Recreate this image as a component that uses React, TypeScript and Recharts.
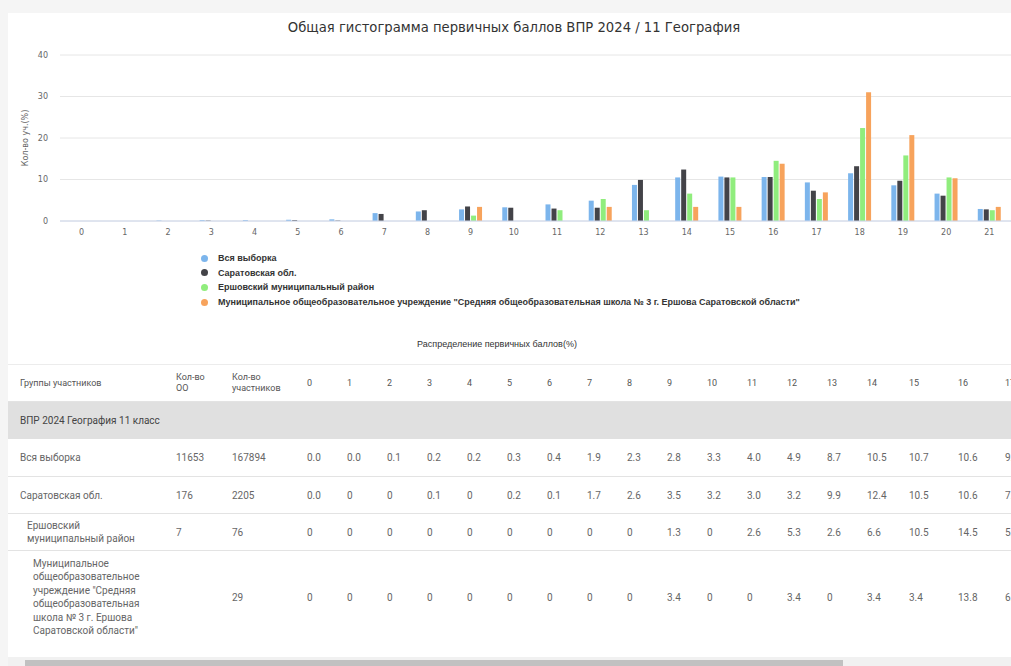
import { BarChart, Bar, XAxis, YAxis, CartesianGrid, Legend } from "recharts";

/* ===== data ===== */
const scores = [
  "0", "1", "2", "3", "4", "5", "6", "7", "8", "9", "10",
  "11", "12", "13", "14", "15", "16", "17", "18", "19", "20", "21",
];

const seriesNames = [
  "Вся выборка",
  "Саратовская обл.",
  "Ершовский муниципальный район",
  "Муниципальное общеобразовательное учреждение \"Средняя общеобразовательная школа № 3 г. Ершова Саратовской области\"",
];

// распределение первичных баллов, %
const allSample = ["0.0", "0.0", "0.1", "0.2", "0.2", "0.3", "0.4", "1.9", "2.3", "2.8", "3.3", "4.0", "4.9", "8.7", "10.5", "10.7", "10.6", "9.3", "11.5", "8.6", "6.6", "2.9"];
const saratovRegion = ["0.0", "0", "0", "0.1", "0", "0.2", "0.1", "1.7", "2.6", "3.5", "3.2", "3.0", "3.2", "9.9", "12.4", "10.5", "10.6", "7.3", "13.2", "9.7", "6.1", "2.8"];
const ershovDistrict = ["0", "0", "0", "0", "0", "0", "0", "0", "0", "1.3", "0", "2.6", "5.3", "2.6", "6.6", "10.5", "14.5", "5.3", "22.4", "15.8", "10.5", "2.6"];
const school3 = ["0", "0", "0", "0", "0", "0", "0", "0", "0", "3.4", "0", "0", "3.4", "0", "3.4", "3.4", "13.8", "6.9", "31.0", "20.7", "10.3", "3.4"];

const schoolCounts = ["11653", "176", "7", ""];
const participantCounts = ["167894", "2205", "76", "29"];

const yTicks = [0, 10, 20, 30, 40];

const chartTitle = "Общая гистограмма первичных баллов ВПР 2024 / 11 География";
const tableTitle = "Распределение первичных баллов(%)";
const groupTitle = "ВПР 2024 География 11 класс";
const yAxisTitle = "Кол-во уч.(%)";

/* ===== styles ===== */
const COLORS = ["#7cb5ec", "#434348", "#90ed7d", "#f7a35c"];
const KEYS = ["all", "saratov", "ershov", "school"];
const SERIES = [allSample, saratovRegion, ershovDistrict, school3];
const FONT = "'DejaVu Sans', sans-serif";
const TABLE_FONT = "Roboto, sans-serif";

// видимая часть таблицы (прокручивается вправо)
const TABLE_COLS = 18;
const colWidths = [168, 56, 75, 40, 40, 40, 40, 40, 40, 40, 40, 40, 40, 40, 40, 40, 40, 42, 49, 47, 48];

const chartData = scores.map((s, i) => {
  const row: Record<string, string | number> = { score: s };
  KEYS.forEach((k, j) => {
    row[k] = parseFloat(SERIES[j][i]);
  });
  return row;
});

const renderLegend = () => (
  <ul style={{ listStyle: "none", margin: 0, padding: "0 0 0 201px" }}>
    {seriesNames.map((name, j) => (
      <li
        key={name}
        style={{
          height: 14.6,
          display: "flex",
          alignItems: "center",
          fontSize: 9,
          fontWeight: "bold",
          color: "#333",
          fontFamily: "'Liberation Sans', Arial, sans-serif",
          whiteSpace: "nowrap",
        }}
      >
        <span
          style={{
            width: 7,
            height: 7,
            borderRadius: "50%",
            background: COLORS[j],
            marginRight: 10,
            flex: "none",
          }}
        />
        {name}
      </li>
    ))}
  </ul>
);

const YTitle = (props: any) => {
  const vb = props.viewBox || { y: 0, height: 0 };
  const cy = vb.y + vb.height / 2;
  return (
    <text
      x={25}
      y={cy}
      transform={`rotate(-90 25 ${cy})`}
      textAnchor="middle"
      dominantBaseline="middle"
      fontSize={8}
      fill="#666"
      fontFamily={FONT}
    >
      {yAxisTitle}
    </text>
  );
};

const cellBase = {
  padding: 0,
  textAlign: "left" as const,
  verticalAlign: "middle" as const,
  fontFamily: TABLE_FONT,
};

const App = () => {
  const visibleScores = scores.slice(0, TABLE_COLS);

  return (
    <div
      style={{
        position: "relative",
        width: 1011,
        height: 666,
        overflow: "hidden",
        background: "#f5f5f5",
      }}
    >
      <style>{"body{margin:0}"}</style>

      {/* карточка */}
      <div
        style={{
          position: "absolute",
          left: 8,
          top: 13,
          right: 0,
          bottom: 0,
          background: "#fff",
        }}
      />

      {/* заголовок */}
      <div
        style={{
          position: "absolute",
          left: 8,
          top: 20,
          width: 1012,
          textAlign: "center",
          fontFamily: FONT,
          fontSize: 13.2,
          color: "#333",
        }}
      >
        {chartTitle}
      </div>

      {/* гистограмма */}
      <div style={{ position: "absolute", left: 0, top: 40 }}>
        <BarChart
          width={1011}
          height={211}
          data={chartData}
          margin={{ top: 15, right: 0, bottom: 0, left: 0 }}
          barGap={1}
        >
          <CartesianGrid vertical={false} stroke="#e6e6e6" />
          <XAxis
            dataKey="score"
            interval={0}
            height={30}
            tickLine={false}
            axisLine={{ stroke: "#ccd6eb" }}
            tick={{ fontSize: 8, fill: "#666", fontFamily: FONT }}
          />
          <YAxis
            domain={[0, 40]}
            ticks={yTicks}
            width={60}
            axisLine={false}
            tickLine={false}
            tickMargin={6}
            tick={{ fontSize: 8, fill: "#666", fontFamily: FONT }}
            label={{ content: <YTitle /> }}
          />
          <Legend
            layout="horizontal"
            verticalAlign="middle"
            align="center"
            content={renderLegend}
            wrapperStyle={{ top: 211, left: 0, width: 1011 }}
          />
          {KEYS.map((k, j) => (
            <Bar
              key={k}
              dataKey={k}
              name={seriesNames[j]}
              fill={COLORS[j]}
              barSize={5}
              isAnimationActive={false}
            />
          ))}
        </BarChart>
      </div>

      {/* подпись таблицы */}
      <div
        style={{
          position: "absolute",
          left: 0,
          top: 339,
          width: 994,
          textAlign: "center",
          fontFamily: "'Liberation Sans', Arial, sans-serif",
          fontSize: 9,
          color: "#333",
        }}
      >
        {tableTitle}
      </div>

      {/* таблица */}
      <table
        style={{
          position: "absolute",
          left: 8,
          top: 364,
          borderCollapse: "collapse",
          tableLayout: "fixed",
          width: colWidths.reduce((a, b) => a + b, 0),
          borderTop: "1px solid #ececec",
        }}
      >
        <colgroup>
          {colWidths.map((w, i) => (
            <col key={i} style={{ width: w }} />
          ))}
        </colgroup>
        <tbody>
          <tr style={{ height: 37, borderBottom: "1px solid #e3e3e3" }}>
            <td style={{ ...cellBase, paddingLeft: 12, fontSize: 9, color: "#555" }}>
              Группы участников
            </td>
            <td style={{ ...cellBase, fontSize: 9, color: "#555", lineHeight: "11px" }}>
              Кол-во
              <br />
              ОО
            </td>
            <td style={{ ...cellBase, fontSize: 9, color: "#555", lineHeight: "11px" }}>
              Кол-во
              <br />
              участников
            </td>
            {visibleScores.map((s) => (
              <td key={s} style={{ ...cellBase, fontSize: 9, color: "#555" }}>
                {s}
              </td>
            ))}
            <td />
          </tr>
          <tr style={{ height: 37, background: "#e0e0e0" }}>
            <td
              colSpan={colWidths.length}
              style={{ ...cellBase, paddingLeft: 12, fontSize: 10, color: "#444" }}
            >
              {groupTitle}
            </td>
          </tr>
          {seriesNames.map((label, r) => {
            const indent = [12, 12, 19, 25][r];
            const labelWidth = [150, 150, 116, 125][r];
            const h = [38, 37, 37, 93][r];
            return (
              <tr
                key={label}
                style={{
                  height: h,
                  borderBottom: r < 3 ? "1px solid #e3e3e3" : "none",
                }}
              >
                <td style={{ ...cellBase, paddingLeft: indent, fontSize: 10, color: "#666" }}>
                  <div style={{ width: labelWidth, lineHeight: r >= 2 ? "13.5px" : "normal" }}>
                    {label}
                  </div>
                </td>
                <td style={{ ...cellBase, fontSize: 10, color: "#666" }}>{schoolCounts[r]}</td>
                <td style={{ ...cellBase, fontSize: 10, color: "#666" }}>{participantCounts[r]}</td>
                {SERIES[r].slice(0, TABLE_COLS).map((v, i) => (
                  <td key={i} style={{ ...cellBase, fontSize: 10, color: "#666" }}>
                    {v}
                  </td>
                ))}
                <td />
              </tr>
            );
          })}
        </tbody>
      </table>

      {/* полоса прокрутки */}
      <div
        style={{
          position: "absolute",
          left: 8,
          top: 657,
          width: 1003,
          height: 9,
          background: "#f1f1f1",
        }}
      />
      <div
        style={{
          position: "absolute",
          left: 25,
          top: 660,
          width: 818,
          height: 6,
          background: "#c1c1c1",
        }}
      />
    </div>
  );
};

export default App;
